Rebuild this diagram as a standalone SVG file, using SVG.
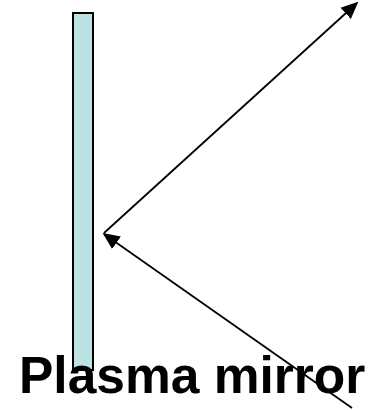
<svg xmlns="http://www.w3.org/2000/svg" width="377" height="410" viewBox="0 0 377 410">
<defs>
<style>
.ray{stroke:#000;stroke-width:1.8;fill:none}
.lbl{font-family:"Liberation Sans",Arial,sans-serif;font-weight:bold;font-size:51.5px;fill:#000}
</style>
<marker id="ah" viewBox="0 0 10 10" refX="9" refY="5" markerWidth="17" markerHeight="17" markerUnits="userSpaceOnUse" orient="auto">
<path d="M0,0.5 L10,5 L0,9.5 z" fill="#000"/>
</marker>
</defs>
<rect width="377" height="410" fill="#fff"/>
<g id="mirror">
<rect x="73" y="13" width="20" height="357" fill="#bde2e3" stroke="#000" stroke-width="2"/>
</g>
<g id="connectors">
<line class="ray" x1="104" y1="233" x2="357" y2="3" marker-end="url(#ah)"/>
<line class="ray" x1="352" y1="408" x2="104" y2="234" marker-end="url(#ah)"/>
</g>
<g id="label">
<text class="lbl" x="19" y="393">Plasma mirror</text>
</g>
</svg>
